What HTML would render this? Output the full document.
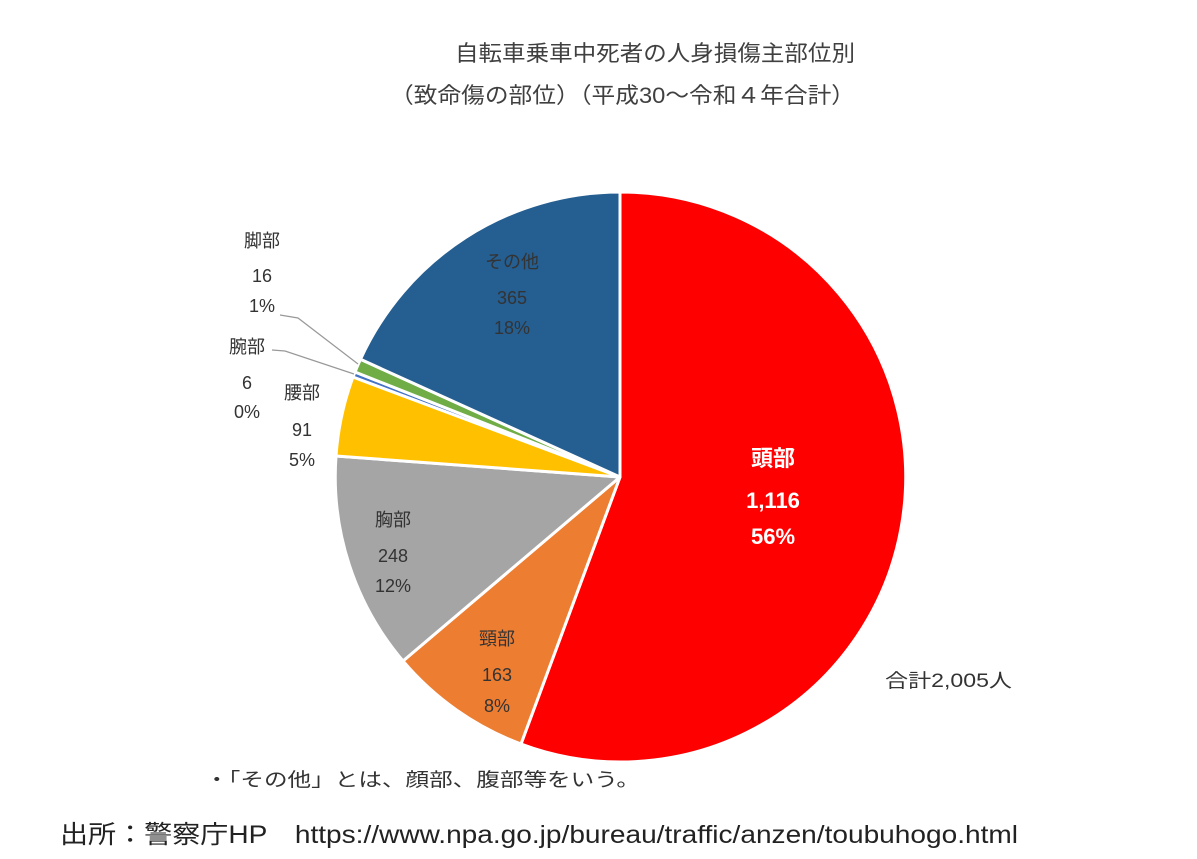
<!DOCTYPE html>
<html><head><meta charset="utf-8"><style>
body{margin:0;background:#fff;width:1197px;height:859px;overflow:hidden}
svg{display:block}
text{font-family:"Liberation Sans","Noto Sans CJK JP",sans-serif}
</style></head><body>
<svg width="1197" height="859" viewBox="0 0 1197 859">
<text x="455" y="61" font-size="22" fill="#404040" textLength="400" lengthAdjust="spacingAndGlyphs">自転車乗車中死者の人身損傷主部位別</text>
<text x="390" y="103" font-size="22" fill="#404040" textLength="465" lengthAdjust="spacingAndGlyphs">（致命傷の部位）（平成30～令和４年合計）</text>
<g stroke="#fff" stroke-width="3" stroke-linejoin="round">
<path d="M620,477 L620,192 A285,285 0 1,1 521,744 Z" fill="#ff0000"/>
<path d="M620,477 L521,744 A285,285 0 0,1 403,661 Z" fill="#ed7d31"/>
<path d="M620,477 L403,661 A285,285 0 0,1 336,456 Z" fill="#a5a5a5"/>
<path d="M620,477 L336,456 A285,285 0 0,1 353,377 Z" fill="#ffc000"/>
<path d="M620,477 L353,377 A285,285 0 0,1 355,372 Z" fill="#4472c4"/>
<path d="M620,477 L355,372 A285,285 0 0,1 360.5,359.3 Z" fill="#70ad47"/>
<path d="M620,477 L360.5,359.3 A285,285 0 0,1 620,192 Z" fill="#255e91"/>
</g>
<polyline points="280,315 298,318 358,364" fill="none" stroke="#999" stroke-width="1.2"/>
<polyline points="272,350 285,351 354,374" fill="none" stroke="#999" stroke-width="1.2"/>
<g font-size="18" fill="#333" text-anchor="middle">
<text x="512" y="268">その他</text><text x="512" y="304">365</text><text x="512" y="334">18%</text>
<text x="262" y="247">脚部</text><text x="262" y="282">16</text><text x="262" y="312">1%</text>
<text x="247" y="353">腕部</text><text x="247" y="389">6</text><text x="247" y="418">0%</text>
<text x="302" y="399">腰部</text><text x="302" y="436">91</text><text x="302" y="466">5%</text>
<text x="393" y="526">胸部</text><text x="393" y="562">248</text><text x="393" y="592">12%</text>
<text x="497" y="645">頸部</text><text x="497" y="681">163</text><text x="497" y="712">8%</text>
</g>
<g font-size="22" fill="#fff" font-weight="bold" text-anchor="middle">
<text x="773" y="466">頭部</text><text x="773" y="508">1,116</text><text x="773" y="544">56%</text>
</g>
<text x="885" y="687" font-size="19" fill="#333" textLength="127" lengthAdjust="spacingAndGlyphs">合計2,005人</text>
<text x="205" y="786" font-size="19" fill="#333" textLength="435" lengthAdjust="spacingAndGlyphs">・「その他」とは、顔部、腹部等をいう。</text>
<text x="60" y="843" font-size="25" fill="#222" textLength="958" lengthAdjust="spacingAndGlyphs">出所：警察庁HP　https://www.npa.go.jp/bureau/traffic/anzen/toubuhogo.html</text>
</svg>
</body></html>
